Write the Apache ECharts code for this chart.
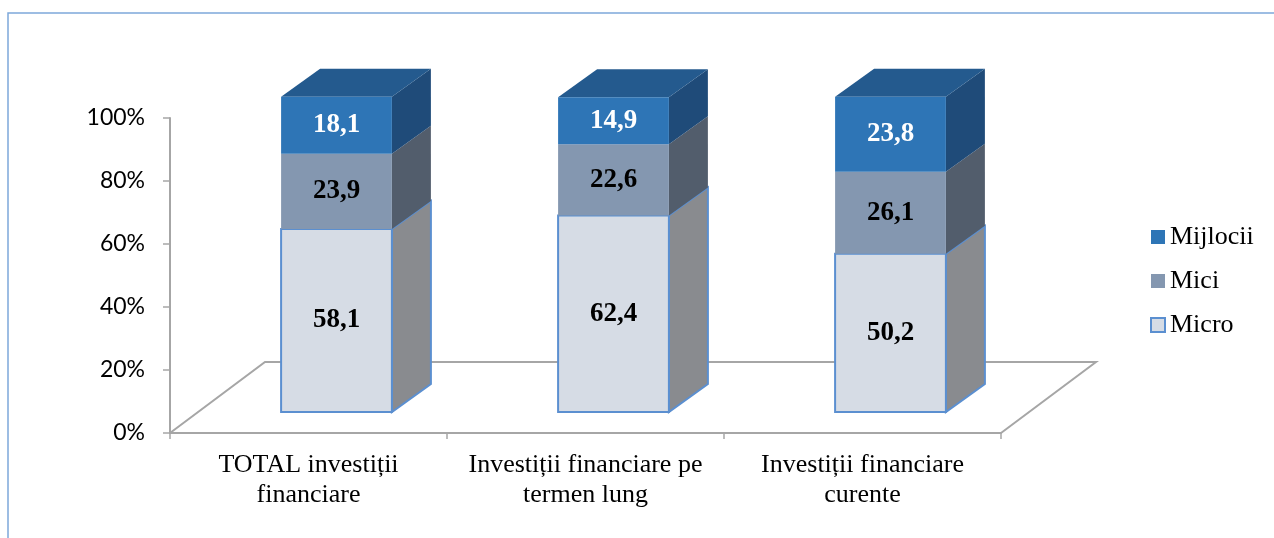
<!DOCTYPE html>
<html>
<head>
<meta charset="utf-8">
<script src="https://cdn.jsdelivr.net/npm/echarts@6/dist/echarts.min.js"></script>
<style>
html,body{margin:0;padding:0;background:#fff;}
#chart{width:1274px;height:538px;}
</style>
</head>
<body>
<div id="chart"></div>
<script>
// ---- data ----
const categories = ['TOTAL investiții\nfinanciare', 'Investiții financiare pe\ntermen lung', 'Investiții financiare\ncurente'];
const seriesNames = ['Micro', 'Mici', 'Mijlocii'];
const micro = [58.1, 62.4, 50.2];
const mici = [23.9, 22.6, 26.1];
const mijlocii = [18.1, 14.9, 23.8];
const yTicks = [0, 20, 40, 60, 80, 100];

// ---- styles ----
const SERIF = 'Liberation Serif';
const DEPTH = {x: 95, y: -71};          // floor depth
const FRONT = {x: 28, y: -21};          // bar front offset into floor
const BDEPTH = {x: 39, y: -28};         // bar depth
const BAR_W = 0.4;                      // fraction of band
const styles = {
  Micro:    {front: '#D6DCE5', side: '#898B8F', top: '#C0C6CE', border: '#5B8FD0', text: '#000'},
  Mici:     {front: '#8497B0', side: '#525D6C', top: '#6C7E96', border: null, text: '#000'},
  Mijlocii: {front: '#2E75B6', side: '#1F4B79', top: '#245A8E', border: null, text: '#fff'}
};
const valueSets = {Micro: micro, Mici: mici, Mijlocii: mijlocii};

function segData(name) {
  const out = [];
  for (let i = 0; i < categories.length; i++) {
    let start = 0;
    for (const n of seriesNames) {
      if (n === name) break;
      start += valueSets[n][i];
    }
    out.push([i, start, start + valueSets[name][i], valueSets[name][i]]);
  }
  return out;
}

function makeRender(name, isTop) {
  const st = styles[name];
  return function (params, api) {
    const i = api.value(0), s = api.value(1), e = api.value(2), v = api.value(3);
    const p0 = api.coord([i, s]);
    const p1 = api.coord([i, e]);
    const bw = api.size([1, 0])[0] * BAR_W;
    const fx = p0[0] - bw / 2 + FRONT.x;
    const y0 = p0[1] + FRONT.y;
    const y1 = p1[1] + FRONT.y;
    const stroke = st.border ? {stroke: st.border, lineWidth: 2} : {stroke: null, lineWidth: 0};
    const children = [];
    children.push({
      type: 'polygon',
      shape: {points: [[fx + bw, y1], [fx + bw + BDEPTH.x, y1 + BDEPTH.y], [fx + bw + BDEPTH.x, y0 + BDEPTH.y], [fx + bw, y0]]},
      style: Object.assign({fill: st.side}, stroke)
    });
    if (isTop) {
      children.push({
        type: 'polygon',
        shape: {points: [[fx, y1], [fx + bw, y1], [fx + bw + BDEPTH.x, y1 + BDEPTH.y], [fx + BDEPTH.x, y1 + BDEPTH.y]]},
        style: Object.assign({fill: st.top}, stroke)
      });
    }
    children.push({
      type: 'rect',
      shape: {x: fx, y: y1, width: bw, height: y0 - y1},
      style: Object.assign({fill: st.front}, stroke)
    });
    children.push({
      type: 'text',
      style: {
        x: fx + bw / 2, y: (y0 + y1) / 2,
        text: v.toFixed(1).replace('.', ','),
        fill: st.text, align: 'center', verticalAlign: 'middle',
        fontFamily: SERIF, fontWeight: 'bold', fontSize: 27
      }
    });
    return {type: 'group', children: children};
  };
}

const chart = echarts.init(document.getElementById('chart'));
const axisGray = '#A6A6A6';

const option = {
  animation: false,
  backgroundColor: '#fff',
  grid: {left: 170, right: 273, top: 118, bottom: 105, containLabel: false},
  graphic: [{
    type: 'rect', silent: true, z: 0,
    shape: {x: 8, y: 13, width: 1400, height: 700},
    style: {fill: 'none', stroke: '#7EA8DA', lineWidth: 1.5}
  }],
  legend: {
    orient: 'vertical',
    left: 1150, top: 224, padding: 0,
    itemWidth: 14, itemHeight: 14, itemGap: 18,
    icon: 'rect',
    textStyle: {fontFamily: SERIF, fontSize: 26, color: '#000'},
    data: [
      {name: 'Mijlocii', itemStyle: {color: styles.Mijlocii.front}},
      {name: 'Mici', itemStyle: {color: styles.Mici.front}},
      {name: 'Micro', itemStyle: {color: styles.Micro.front, borderColor: styles.Micro.border, borderWidth: 2}}
    ]
  },
  xAxis: {
    type: 'category',
    data: categories,
    boundaryGap: true,
    axisLine: {lineStyle: {color: axisGray, width: 2}},
    axisTick: {show: true, length: 6, lineStyle: {color: axisGray, width: 1.5}},
    axisLabel: {
      margin: 17, color: '#000', fontSize: 26, lineHeight: 30,
      fontFamily: SERIF, interval: 0
    },
    splitLine: {show: false}
  },
  yAxis: {
    type: 'value',
    min: yTicks[0], max: yTicks[yTicks.length - 1], interval: yTicks[1] - yTicks[0],
    axisLine: {show: true, lineStyle: {color: axisGray, width: 2}},
    axisTick: {show: true, length: 7, lineStyle: {color: axisGray, width: 1.5}},
    axisLabel: {
      margin: 25, color: '#000', fontSize: 23, fontFamily: 'Lato',
      padding: [4, 0, 0, 0],
      formatter: '{value}%'
    },
    splitLine: {show: false}
  },
  series: [
    {
      type: 'custom', name: 'floor', z: 1, silent: true,
      data: [[0]],
      renderItem: function (params, api) {
        const cs = params.coordSys;
        const bx = cs.x, by = cs.y + cs.height, ex = cs.x + cs.width;
        return {
          type: 'polyline',
          shape: {points: [[bx, by], [bx + DEPTH.x, by + DEPTH.y], [ex + DEPTH.x, by + DEPTH.y], [ex, by]]},
          style: {stroke: axisGray, lineWidth: 2, fill: null}
        };
      }
    },
    {
      type: 'custom', name: 'Micro', z: 2,
      itemStyle: {color: styles.Micro.front},
      data: segData('Micro'),
      encode: {x: 0, y: [1, 2]},
      renderItem: makeRender('Micro', false)
    },
    {
      type: 'custom', name: 'Mici', z: 2,
      itemStyle: {color: styles.Mici.front},
      data: segData('Mici'),
      encode: {x: 0, y: [1, 2]},
      renderItem: makeRender('Mici', false)
    },
    {
      type: 'custom', name: 'Mijlocii', z: 2,
      itemStyle: {color: styles.Mijlocii.front},
      data: segData('Mijlocii'),
      encode: {x: 0, y: [1, 2]},
      renderItem: makeRender('Mijlocii', true)
    }
  ]
};
chart.setOption(option);
</script>
</body>
</html>
